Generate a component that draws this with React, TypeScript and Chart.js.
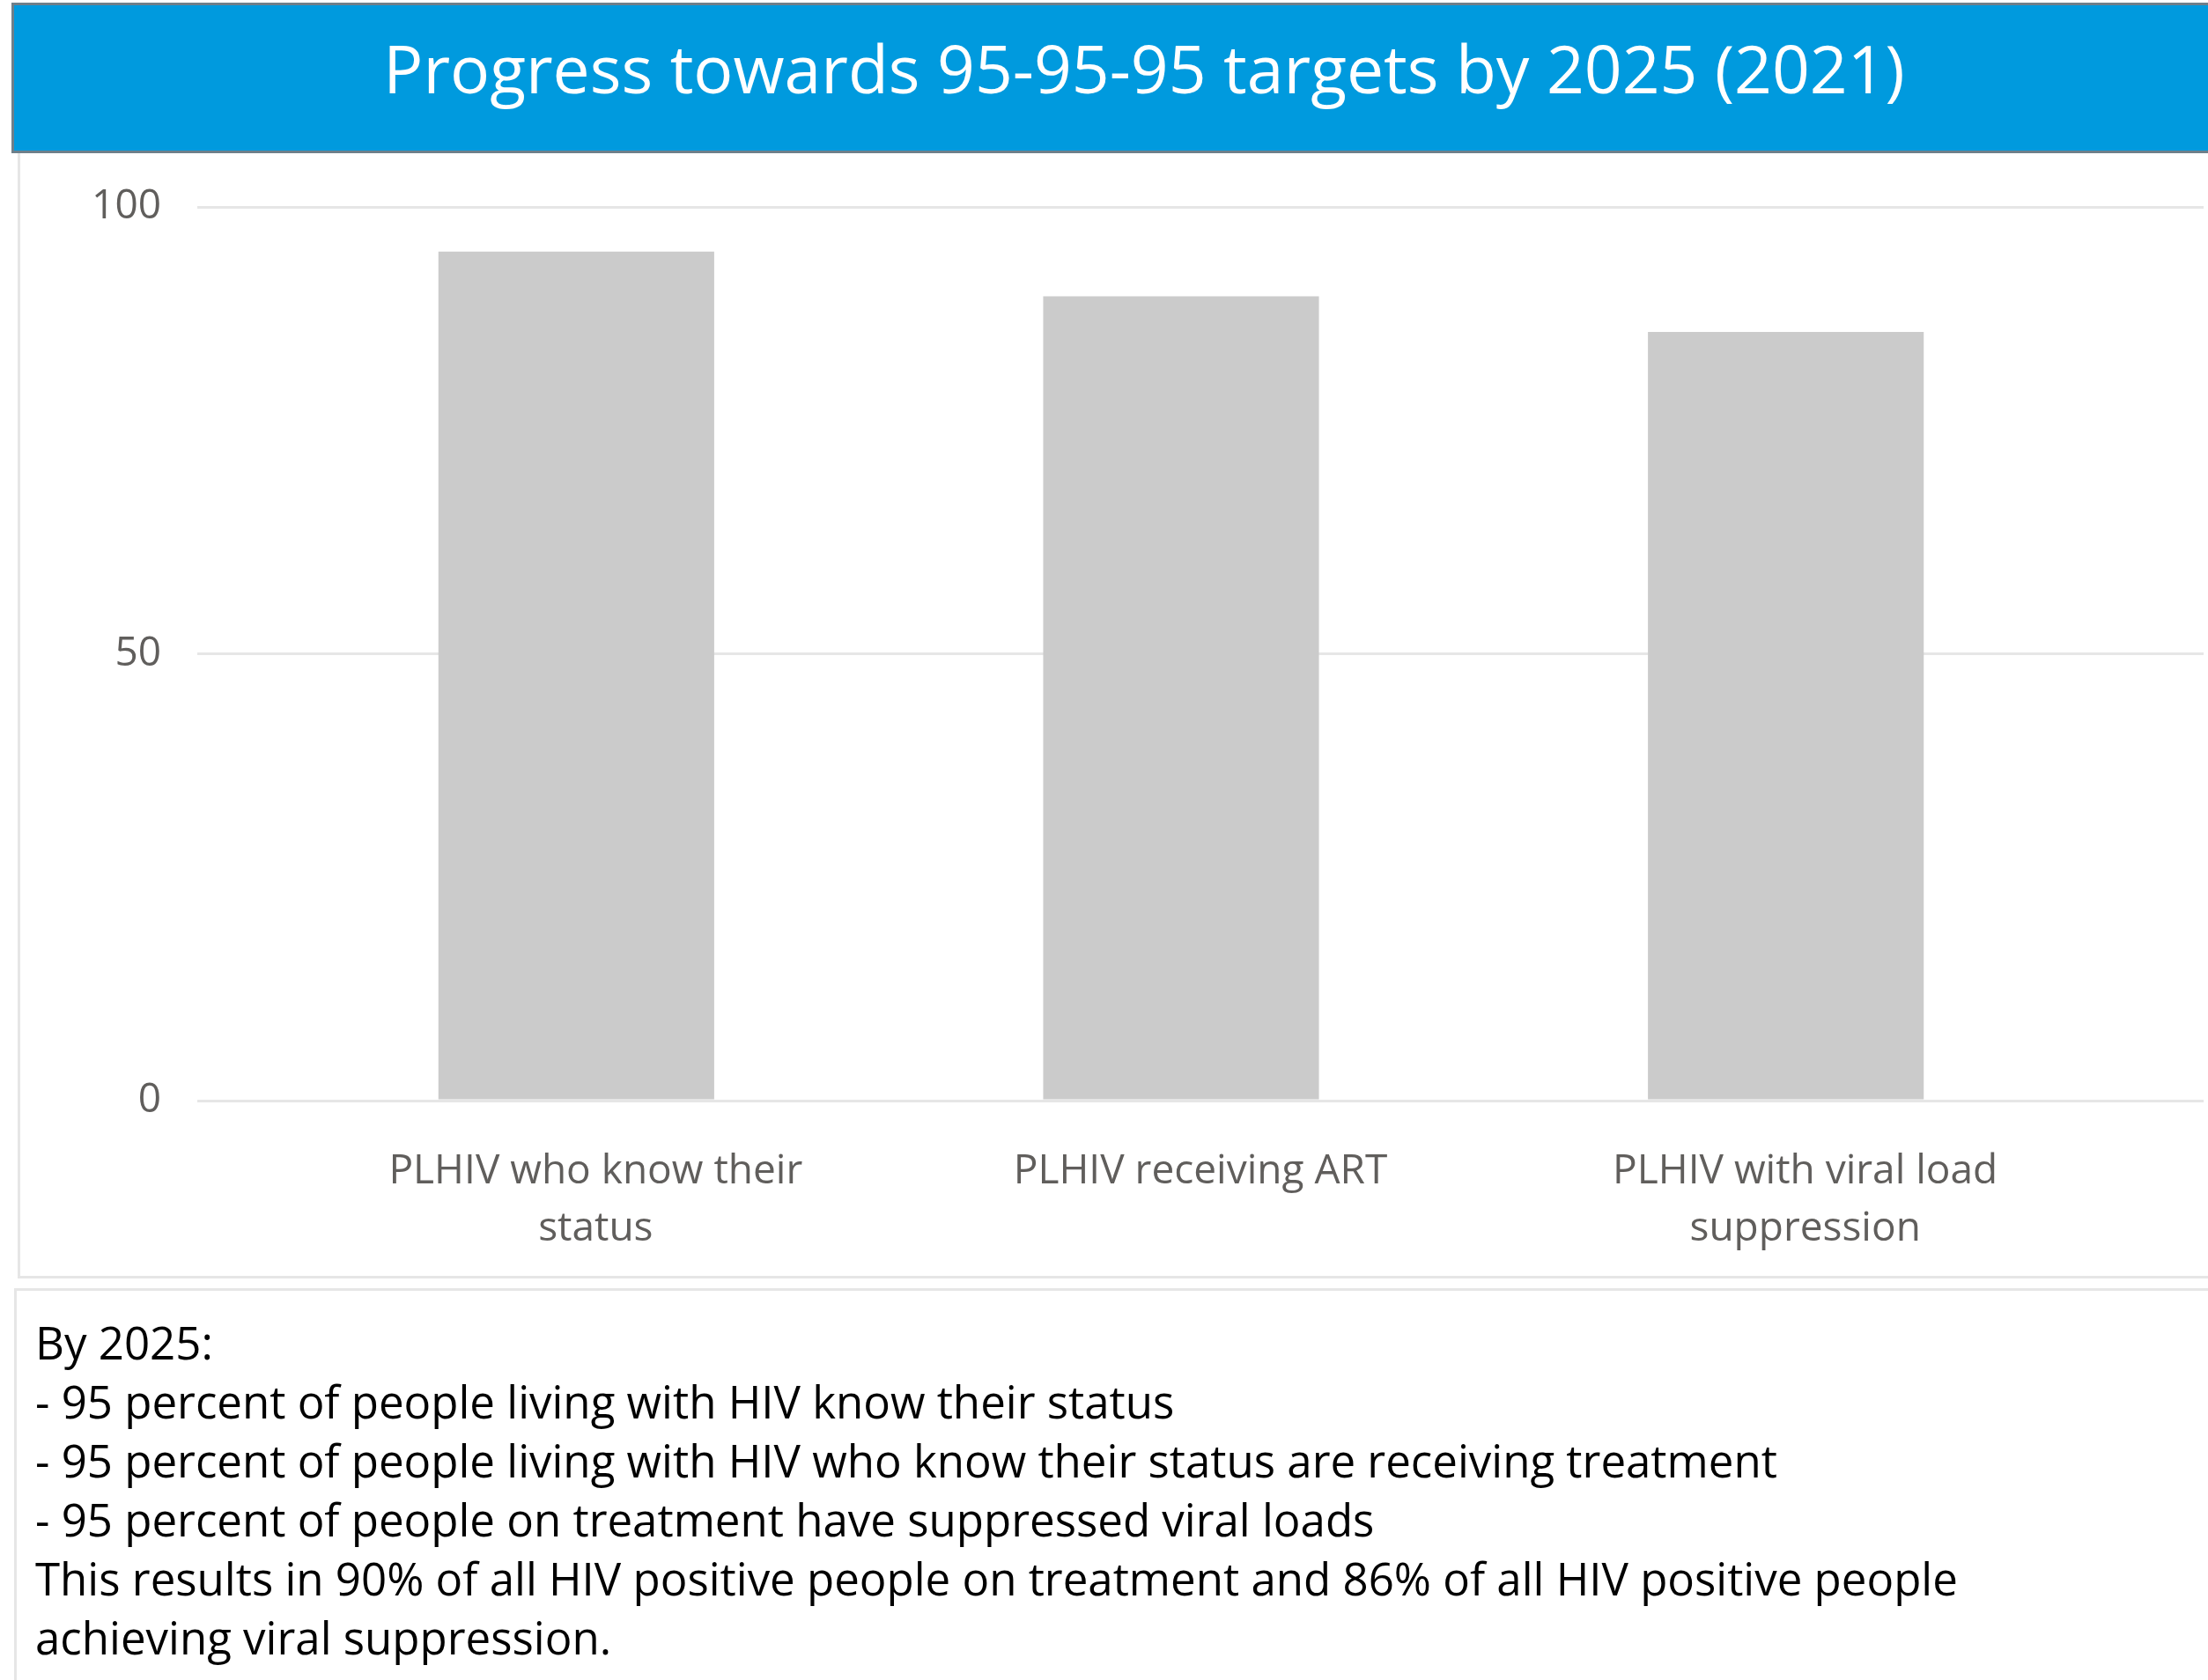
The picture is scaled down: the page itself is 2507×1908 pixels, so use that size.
import React, { useEffect, useRef } from "react";
import { Chart, registerables } from "chart.js";

Chart.register(...registerables);

const titleText = "Progress towards 95-95-95 targets by 2025 (2021)";
const categories: string[][] = [
  ["PLHIV who know their", "status"],
  ["PLHIV receiving ART"],
  ["PLHIV with viral load", "suppression"],
];
const values = [95, 90, 86];
const yTicks = [0, 50, 100];
const noteLines = [
  "By 2025:",
  "- 95 percent of people living with HIV know their status",
  "- 95 percent of people living with HIV who know their status are receiving treatment",
  "- 95 percent of people on treatment have suppressed viral loads",
  "This results in 90% of all HIV positive people on treatment and 86% of all HIV positive people",
  "achieving viral suppression.",
];

const FONT = "'Open Sans', 'Noto Sans', sans-serif";
const GRID = "#e6e6e6";
const LABEL = "#605E5C";

const CANVAS_W = 2483;
const CANVAS_H = 1268;

export default function App() {
  const ref = useRef<HTMLCanvasElement | null>(null);

  useEffect(() => {
    if (!ref.current) return;
    const chart = new Chart(ref.current, {
      type: "bar",
      data: {
        labels: categories,
        datasets: [
          {
            data: values,
            backgroundColor: "#cbcbcb",
            borderWidth: 0,
            categoryPercentage: 1,
            barPercentage: 0.456,
          },
        ],
      },
      options: {
        animation: false,
        responsive: false,
        devicePixelRatio: 1,
        layout: { padding: { top: 58, left: 0, right: 0, bottom: 0 } },
        plugins: {
          legend: { display: false },
          tooltip: { enabled: false },
          title: { display: false },
        },
        scales: {
          x: {
            grid: { display: false, drawTicks: false },
            border: { display: false },
            ticks: {
              color: LABEL,
              font: { family: FONT, size: 46, lineHeight: 1.4 },
              padding: 49,
              labelOffset: 22,
              maxRotation: 0,
              autoSkip: false,
            },
            afterFit: (s: any) => {
              s.height = 195;
            },
          },
          y: {
            position: "left",
            min: 0,
            max: 100,
            afterBuildTicks: (s: any) => {
              s.ticks = yTicks.map((v) => ({ value: v }));
            },
            grid: { color: GRID, lineWidth: 3, drawTicks: true, tickLength: 87, tickColor: GRID },
            border: { display: false },
            ticks: {
              color: LABEL,
              font: { family: FONT, size: 46 },
              padding: 41,
            },
            afterFit: (s: any) => {
              s.width = 287;
              s.paddingTop = 0;
              s.paddingBottom = 0;
            },
          },
          y2: {
            position: "right",
            min: 0,
            max: 100,
            afterBuildTicks: (s: any) => {
              s.ticks = yTicks.map((v) => ({ value: v }));
            },
            grid: {
              color: GRID,
              lineWidth: 3,
              drawOnChartArea: false,
              drawTicks: true,
              tickLength: 131,
              tickColor: GRID,
            },
            border: { display: false },
            ticks: { display: false },
            afterFit: (s: any) => {
              s.width = 136;
              s.paddingTop = 0;
              s.paddingBottom = 0;
            },
          },
        },
      },
    });
    return () => chart.destroy();
  }, []);

  return (
    <div
      style={{
        position: "absolute",
        left: 0,
        top: 0,
        width: 2507,
        height: 1908,
        overflow: "hidden",
        background: "#ffffff",
        fontFamily: FONT,
      }}
    >
      {/* chart panel */}
      <div
        style={{
          position: "absolute",
          left: 20,
          top: 171,
          width: 2600,
          height: 1281,
          boxSizing: "border-box",
          border: `3px solid ${GRID}`,
        }}
      />
      <canvas
        ref={ref}
        width={CANVAS_W}
        height={CANVAS_H}
        style={{ position: "absolute", left: 24, top: 177, width: CANVAS_W, height: CANVAS_H }}
      />
      {/* title bar */}
      <div
        style={{
          position: "absolute",
          left: 13,
          top: 3,
          width: 2600,
          height: 171,
          boxSizing: "border-box",
          background: "#009ADE",
          borderTop: "3px solid #6E7F8A",
          borderBottom: "3px solid #6E7F8A",
          borderLeft: "3px solid #6E7F8A",
        }}
      >
        <div
          style={{
            position: "absolute",
            left: -3,
            width: 2572,
            top: 35,
            textAlign: "center",
            color: "#ffffff",
            fontSize: 75,
            lineHeight: "72px",
            whiteSpace: "nowrap",
          }}
        >
          {titleText}
        </div>
      </div>
      {/* note panel */}
      <div
        style={{
          position: "absolute",
          left: 16,
          top: 1463,
          width: 2600,
          height: 500,
          boxSizing: "border-box",
          border: `3px solid ${GRID}`,
          paddingLeft: 21,
          paddingTop: 25,
          color: "#000000",
          fontSize: 51,
          lineHeight: "67px",
          whiteSpace: "nowrap",
        }}
      >
        {noteLines.map((l, i) => (
          <div key={i}>{l}</div>
        ))}
      </div>
    </div>
  );
}
